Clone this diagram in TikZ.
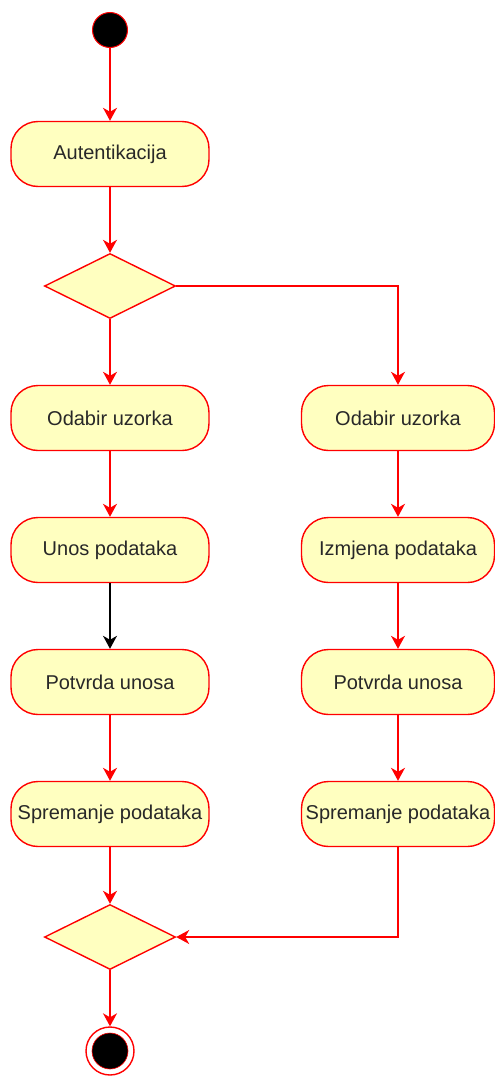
\documentclass[tikz,border=0pt]{standalone}
\usepackage{fontspec}
\setmainfont{Liberation Sans}
\usepackage{xcolor}
\usetikzlibrary{shapes.geometric,arrows.meta}
\definecolor{umlred}{RGB}{255,0,0}
\definecolor{umlfill}{RGB}{255,255,192}
\definecolor{umltext}{RGB}{40,40,40}

\tikzset{
  activity/.style={draw=umlred,fill=umlfill,line width=1.4pt,rounded corners=27pt,
    minimum width=198pt,minimum height=65pt,inner sep=0pt,text=umltext,
    font=\fontsize{20}{24}\selectfont},
  choice/.style={diamond,draw=umlred,fill=umlfill,line width=1.4pt,
    minimum width=131pt,minimum height=65pt,inner sep=0pt,aspect=2},
  flow/.style={draw=umlred,line width=1.4pt,-{Stealth[length=13pt,width=14pt,inset=4pt]}},
}

\begin{document}
\begin{tikzpicture}[x=1pt,y=-1pt]
        \useasboundingbox (0,0) rectangle (495,1076);
        % start / end
        \node[circle,draw=umlred,fill=black,line width=1pt,minimum size=35pt,inner sep=0pt] (start) at (110,30) {};
        \node[circle,draw=umlred,fill=white,line width=1.4pt,minimum size=48pt,inner sep=0pt] (end) at (110,1051) {};
        \node[circle,draw=umlred,fill=black,line width=0.6pt,minimum size=36pt,inner sep=0pt] (endin) at (110,1051) {};
        % activities
        \node[activity] (auth) at (110,154) {Autentikacija};
        \node[choice] (split) at (110,286) {};
        \node[activity] (odabirL) at (110,418) {Odabir uzorka};
        \node[activity] (unos) at (110,550) {Unos podataka};
        \node[activity] (potvrdaL) at (110,682) {Potvrda unosa};
        \node[activity] (spremL) at (110,814) {Spremanje podataka};
        \node[activity,minimum width=193pt] (odabirR) at (398,418) {Odabir uzorka};
        \node[activity,minimum width=193pt] (izmjena) at (398,550) {Izmjena podataka};
        \node[activity,minimum width=193pt] (potvrdaR) at (398,682) {Potvrda unosa};
        \node[activity,minimum width=193pt] (spremR) at (398,814) {Spremanje podataka};
        \node[choice] (merge) at (110,937) {};
        % flows
        \draw[flow] (start) -- (auth);
        \draw[flow] (auth) -- (split);
        \draw[flow] (split) -- (odabirL);
        \draw[flow] (split.east) -| (odabirR.north);
        \draw[flow] (odabirL) -- (unos);
        \draw[flow,draw=black] (unos) -- (potvrdaL);
        \draw[flow] (potvrdaL) -- (spremL);
        \draw[flow] (spremL) -- (merge);
        \draw[flow] (odabirR) -- (izmjena);
        \draw[flow] (izmjena) -- (potvrdaR);
        \draw[flow] (potvrdaR) -- (spremR);
        \draw[flow] (spremR.south) |- (merge.east);
        \draw[flow] (merge) -- (end);
\end{tikzpicture}
\end{document}
